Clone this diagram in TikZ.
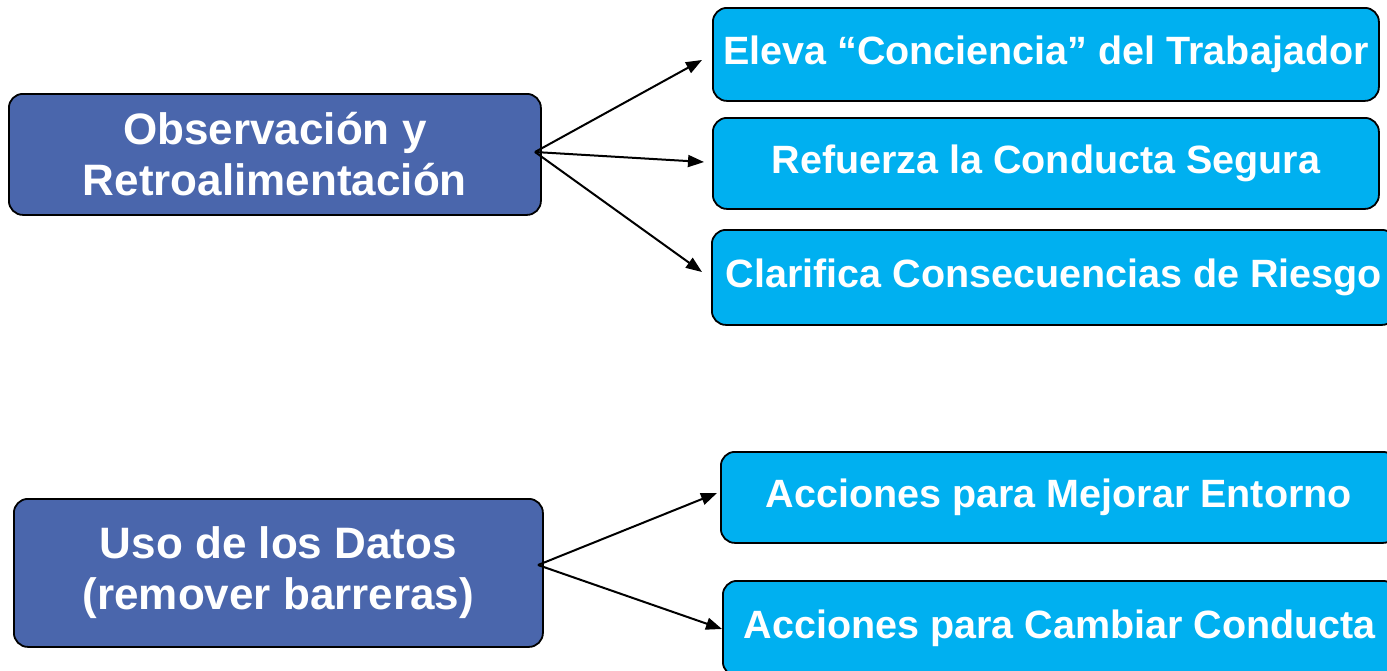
\documentclass[tikz,border=0pt]{standalone}
\usepackage{fontspec}
\setmainfont{Liberation Sans}
\usetikzlibrary{arrows.meta}
\definecolor{darkbox}{HTML}{4A66AC}
\definecolor{lightbox}{HTML}{00B0F0}
\begin{document}
\begin{tikzpicture}[x=1pt,y=-1pt,
  base/.style={draw=black, line width=1.8pt, rounded corners=14pt, anchor=north west,
    text=white, align=center, inner sep=0pt},
  mainbox/.style={base, fill=darkbox, font=\fontsize{44}{51}\selectfont\bfseries},
  subbox/.style={base, fill=lightbox, font=\fontsize{39.5}{48}\selectfont\bfseries},
  arr/.style={line width=2pt, -{Triangle[length=16pt,width=12pt]}}]
\useasboundingbox (0,0) rectangle (1387,670);
\node[mainbox, minimum width=532, minimum height=121] (obs) at (8,93) {Observación y\\Retroalimentación};
\node[mainbox, minimum width=529, minimum height=148] (uso) at (13,498) {Uso de los Datos\\(remover barreras)};
\node[subbox, minimum width=666, minimum height=93] (elev) at (712,7) {Eleva “Conciencia” del Trabajador};
\node[subbox, minimum width=666, minimum height=91] (ref) at (712,117) {Refuerza la Conducta Segura};
\node[subbox, minimum width=684, minimum height=95] (clar) at (711,229) {Clarifica Consecuencias de Riesgo};
\node[subbox, minimum width=676, minimum height=91] (mej) at (720,451) {Acciones para Mejorar Entorno};
\node[subbox, minimum width=674, minimum height=95] (cam) at (722,580) {Acciones para Cambiar Conducta};
\coordinate (s1) at (535,152);
\coordinate (s2) at (538,565);
\coordinate (e1) at (702,60);
\coordinate (e2) at (704,162);
\coordinate (e3) at (702,272);
\coordinate (e4) at (717,493);
\coordinate (e5) at (722,629);
\draw[arr] (s1) -- (e1);
\draw[arr] (s1) -- (e2);
\draw[arr] (s1) -- (e3);
\draw[arr] (s2) -- (e4);
\draw[arr] (s2) -- (e5);
\end{tikzpicture}
\end{document}
